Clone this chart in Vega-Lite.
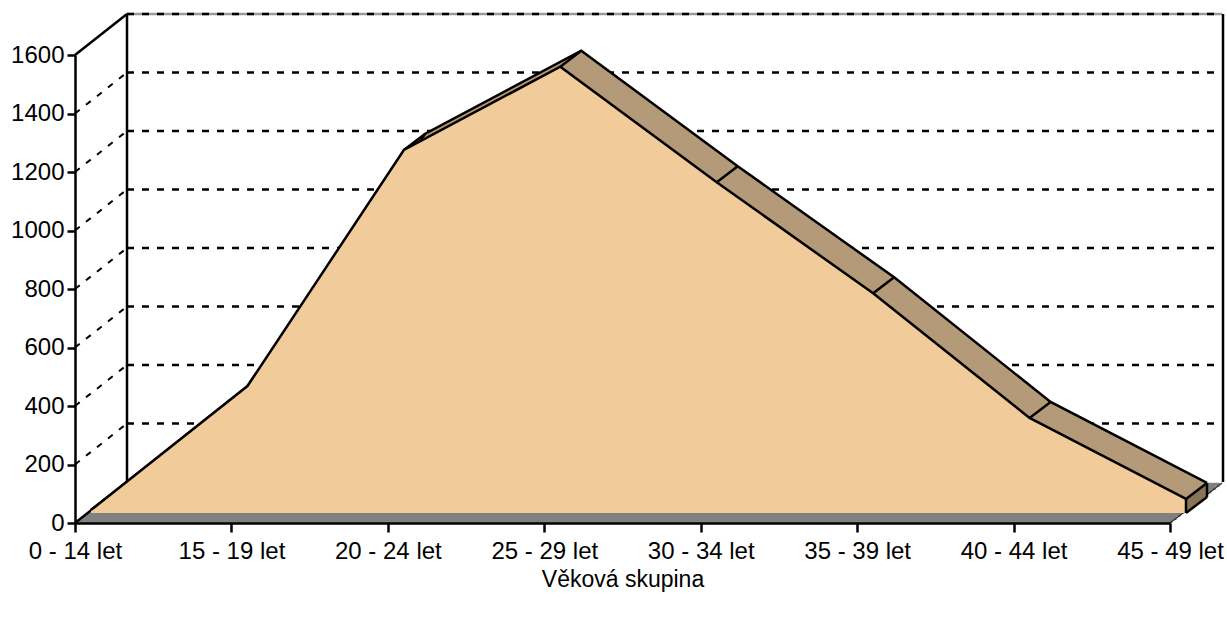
{
  "$schema": "https://vega.github.io/schema/vega-lite/v6.json",
  "autosize": "none",
  "width": 1095,
  "height": 468,
  "padding": {"left": 75, "top": 55, "right": 57, "bottom": 95},
  "background": "white",
  "config": {"view": {"stroke": null}, "font": "Liberation Sans"},
  "resolve": {"axis": {"x": "independent", "y": "independent"}},
  "datasets": {
    "ages": [
      {"group": "0 - 14 let", "count": 10},
      {"group": "15 - 19 let", "count": 434},
      {"group": "20 - 24 let", "count": 1241},
      {"group": "25 - 29 let", "count": 1526},
      {"group": "30 - 34 let", "count": 1131},
      {"group": "35 - 39 let", "count": 751},
      {"group": "40 - 44 let", "count": 325},
      {"group": "45 - 49 let", "count": 48}
    ],
    "ticks": [
      {"tick": 0}, {"tick": 200}, {"tick": 400}, {"tick": 600}, {"tick": 800},
      {"tick": 1000}, {"tick": 1200}, {"tick": 1400}, {"tick": 1600}
    ],
    "one": [{}]
  },
  "layer": [
    {
      "data": {"name": "ticks"},
      "transform": [{"filter": "datum.tick == 1600"}],
      "mark": {"type": "rule", "stroke": "#9a9a9a", "strokeWidth": 2.5, "xOffset": 52, "x2Offset": 52, "yOffset": -41},
      "encoding": {
        "x": {"datum": "0 - 14 let", "type": "ordinal", "scale": {"type": "point", "padding": 0, "domain": ["0 - 14 let","15 - 19 let","20 - 24 let","25 - 29 let","30 - 34 let","35 - 39 let","40 - 44 let","45 - 49 let"]}, "axis": null},
        "x2": {"datum": "45 - 49 let"},
        "y": {"field": "tick", "type": "quantitative", "scale": {"domain": [0, 1600], "nice": false}, "axis": null}
      }
    },
    {
      "data": {"name": "ticks"},
      "transform": [{"filter": "datum.tick > 0"}],
      "mark": {"type": "rule", "stroke": "black", "strokeWidth": 2.5, "strokeDash": [7, 8], "xOffset": 52, "x2Offset": 52, "yOffset": -41},
      "encoding": {
        "x": {"datum": "0 - 14 let", "type": "ordinal", "axis": null},
        "x2": {"datum": "45 - 49 let"},
        "y": {"field": "tick", "type": "quantitative", "axis": null}
      }
    },
    {
      "data": {"name": "one"},
      "mark": {"type": "rule", "stroke": "black", "strokeWidth": 2.5, "xOffset": 52, "yOffset": -41, "y2Offset": -41},
      "encoding": {
        "x": {"datum": "0 - 14 let", "type": "ordinal", "axis": null},
        "y": {"datum": 0, "type": "quantitative", "axis": null},
        "y2": {"datum": 1600}
      }
    },
    {
      "data": {"name": "one"},
      "mark": {"type": "rule", "stroke": "black", "strokeWidth": 2.5, "xOffset": 53, "yOffset": -41, "y2Offset": -41},
      "encoding": {
        "x": {"datum": "45 - 49 let", "type": "ordinal", "axis": null},
        "y": {"datum": 0, "type": "quantitative", "axis": null},
        "y2": {"datum": 1600}
      }
    },
    {
      "data": {"name": "ticks"},
      "transform": [{"filter": "datum.tick > 0 && datum.tick < 1600"}],
      "mark": {"type": "rule", "stroke": "black", "strokeWidth": 2, "strokeDash": [6, 8], "x2Offset": 52, "y2Offset": -41},
      "encoding": {
        "x": {"datum": "0 - 14 let", "type": "ordinal", "axis": null},
        "x2": {"datum": "0 - 14 let"},
        "y": {"field": "tick", "type": "quantitative", "axis": null},
        "y2": {"field": "tick"}
      }
    },
    {
      "data": {"name": "ticks"},
      "transform": [{"filter": "datum.tick == 1600"}],
      "mark": {"type": "rule", "stroke": "black", "strokeWidth": 2.5, "x2Offset": 52, "y2Offset": -41},
      "encoding": {
        "x": {"datum": "0 - 14 let", "type": "ordinal", "axis": null},
        "x2": {"datum": "0 - 14 let"},
        "y": {"field": "tick", "type": "quantitative", "axis": null},
        "y2": {"field": "tick"}
      }
    },
    {"data": {"name": "one"}, "mark": {"type": "rule", "stroke": "#808080", "strokeWidth": 3.8, "xOffset": 2.2, "x2Offset": 2.2, "yOffset": -1.7}, "encoding": {"x": {"datum": "0 - 14 let", "type": "ordinal", "axis": null}, "x2": {"datum": "45 - 49 let"}, "y": {"datum": 0, "type": "quantitative", "axis": null}}},
    {"data": {"name": "one"}, "mark": {"type": "rule", "stroke": "#808080", "strokeWidth": 3.8, "xOffset": 6.5, "x2Offset": 6.5, "yOffset": -5}, "encoding": {"x": {"datum": "0 - 14 let", "type": "ordinal", "axis": null}, "x2": {"datum": "45 - 49 let"}, "y": {"datum": 0, "type": "quantitative", "axis": null}}},
    {"data": {"name": "one"}, "mark": {"type": "rule", "stroke": "#808080", "strokeWidth": 3.8, "xOffset": 10.8, "x2Offset": 10.8, "yOffset": -8.3}, "encoding": {"x": {"datum": "0 - 14 let", "type": "ordinal", "axis": null}, "x2": {"datum": "45 - 49 let"}, "y": {"datum": 0, "type": "quantitative", "axis": null}}},
    {"data": {"name": "one"}, "mark": {"type": "rule", "stroke": "#808080", "strokeWidth": 3.8, "xOffset": 15.2, "x2Offset": 15.2, "yOffset": -11.7}, "encoding": {"x": {"datum": "0 - 14 let", "type": "ordinal", "axis": null}, "x2": {"datum": "45 - 49 let"}, "y": {"datum": 0, "type": "quantitative", "axis": null}}},
    {"data": {"name": "one"}, "mark": {"type": "rule", "stroke": "#808080", "strokeWidth": 3.8, "xOffset": 19.5, "x2Offset": 19.5, "yOffset": -15}, "encoding": {"x": {"datum": "0 - 14 let", "type": "ordinal", "axis": null}, "x2": {"datum": "45 - 49 let"}, "y": {"datum": 0, "type": "quantitative", "axis": null}}},
    {"data": {"name": "one"}, "mark": {"type": "rule", "stroke": "#808080", "strokeWidth": 3.8, "xOffset": 23.8, "x2Offset": 23.8, "yOffset": -18.3}, "encoding": {"x": {"datum": "0 - 14 let", "type": "ordinal", "axis": null}, "x2": {"datum": "45 - 49 let"}, "y": {"datum": 0, "type": "quantitative", "axis": null}}},
    {"data": {"name": "one"}, "mark": {"type": "rule", "stroke": "#808080", "strokeWidth": 3.8, "xOffset": 28.2, "x2Offset": 28.2, "yOffset": -21.7}, "encoding": {"x": {"datum": "0 - 14 let", "type": "ordinal", "axis": null}, "x2": {"datum": "45 - 49 let"}, "y": {"datum": 0, "type": "quantitative", "axis": null}}},
    {"data": {"name": "one"}, "mark": {"type": "rule", "stroke": "#808080", "strokeWidth": 3.8, "xOffset": 32.5, "x2Offset": 32.5, "yOffset": -25}, "encoding": {"x": {"datum": "0 - 14 let", "type": "ordinal", "axis": null}, "x2": {"datum": "45 - 49 let"}, "y": {"datum": 0, "type": "quantitative", "axis": null}}},
    {"data": {"name": "one"}, "mark": {"type": "rule", "stroke": "#808080", "strokeWidth": 3.8, "xOffset": 36.8, "x2Offset": 36.8, "yOffset": -28.3}, "encoding": {"x": {"datum": "0 - 14 let", "type": "ordinal", "axis": null}, "x2": {"datum": "45 - 49 let"}, "y": {"datum": 0, "type": "quantitative", "axis": null}}},
    {"data": {"name": "one"}, "mark": {"type": "rule", "stroke": "#808080", "strokeWidth": 3.8, "xOffset": 41.2, "x2Offset": 41.2, "yOffset": -31.7}, "encoding": {"x": {"datum": "0 - 14 let", "type": "ordinal", "axis": null}, "x2": {"datum": "45 - 49 let"}, "y": {"datum": 0, "type": "quantitative", "axis": null}}},
    {"data": {"name": "one"}, "mark": {"type": "rule", "stroke": "#808080", "strokeWidth": 3.8, "xOffset": 45.5, "x2Offset": 45.5, "yOffset": -35}, "encoding": {"x": {"datum": "0 - 14 let", "type": "ordinal", "axis": null}, "x2": {"datum": "45 - 49 let"}, "y": {"datum": 0, "type": "quantitative", "axis": null}}},
    {"data": {"name": "one"}, "mark": {"type": "rule", "stroke": "#808080", "strokeWidth": 3.8, "xOffset": 49.8, "x2Offset": 49.8, "yOffset": -38.3}, "encoding": {"x": {"datum": "0 - 14 let", "type": "ordinal", "axis": null}, "x2": {"datum": "45 - 49 let"}, "y": {"datum": 0, "type": "quantitative", "axis": null}}},
    {
      "data": {"name": "one"},
      "mark": {"type": "rule", "stroke": "#333333", "strokeWidth": 1.5, "x2Offset": 52, "y2Offset": -40},
      "encoding": {
        "x": {"datum": "45 - 49 let", "type": "ordinal", "axis": null},
        "x2": {"datum": "45 - 49 let"},
        "y": {"datum": 0, "type": "quantitative", "axis": null},
        "y2": {"datum": 0}
      }
    },
    {
      "data": {"name": "ticks"},
      "transform": [{"filter": "datum.tick == 0"}],
      "mark": {"type": "rule", "stroke": "black", "strokeWidth": 2.5, "x2Offset": 52, "y2Offset": -41},
      "encoding": {
        "x": {"datum": "0 - 14 let", "type": "ordinal", "axis": null},
        "x2": {"datum": "0 - 14 let"},
        "y": {"field": "tick", "type": "quantitative", "axis": null},
        "y2": {"field": "tick"}
      }
    },
    {"data": {"name": "ages"}, "mark": {"type": "area", "fill": "#B49A78", "xOffset": 37, "yOffset": -26, "y2Offset": -26}, "encoding": {"x": {"field": "group", "type": "ordinal", "axis": null}, "y": {"field": "count", "type": "quantitative", "axis": null}, "y2": {"datum": 0}}},
    {"data": {"name": "ages"}, "mark": {"type": "area", "fill": "#B49A78", "xOffset": 34.4, "yOffset": -24, "y2Offset": -24}, "encoding": {"x": {"field": "group", "type": "ordinal", "axis": null}, "y": {"field": "count", "type": "quantitative", "axis": null}, "y2": {"datum": 0}}},
    {"data": {"name": "ages"}, "mark": {"type": "area", "fill": "#B49A78", "xOffset": 31.8, "yOffset": -22, "y2Offset": -22}, "encoding": {"x": {"field": "group", "type": "ordinal", "axis": null}, "y": {"field": "count", "type": "quantitative", "axis": null}, "y2": {"datum": 0}}},
    {"data": {"name": "ages"}, "mark": {"type": "area", "fill": "#B49A78", "xOffset": 29.1, "yOffset": -20, "y2Offset": -20}, "encoding": {"x": {"field": "group", "type": "ordinal", "axis": null}, "y": {"field": "count", "type": "quantitative", "axis": null}, "y2": {"datum": 0}}},
    {"data": {"name": "ages"}, "mark": {"type": "area", "fill": "#B49A78", "xOffset": 26.5, "yOffset": -18, "y2Offset": -18}, "encoding": {"x": {"field": "group", "type": "ordinal", "axis": null}, "y": {"field": "count", "type": "quantitative", "axis": null}, "y2": {"datum": 0}}},
    {"data": {"name": "ages"}, "mark": {"type": "area", "fill": "#B49A78", "xOffset": 23.9, "yOffset": -16, "y2Offset": -16}, "encoding": {"x": {"field": "group", "type": "ordinal", "axis": null}, "y": {"field": "count", "type": "quantitative", "axis": null}, "y2": {"datum": 0}}},
    {"data": {"name": "ages"}, "mark": {"type": "area", "fill": "#B49A78", "xOffset": 21.3, "yOffset": -14, "y2Offset": -14}, "encoding": {"x": {"field": "group", "type": "ordinal", "axis": null}, "y": {"field": "count", "type": "quantitative", "axis": null}, "y2": {"datum": 0}}},
    {"data": {"name": "ages"}, "mark": {"type": "area", "fill": "#B49A78", "xOffset": 18.6, "yOffset": -12, "y2Offset": -12}, "encoding": {"x": {"field": "group", "type": "ordinal", "axis": null}, "y": {"field": "count", "type": "quantitative", "axis": null}, "y2": {"datum": 0}}},
    {"data": {"name": "ages"}, "transform": [{"filter": "datum.group == '45 - 49 let'"}], "mark": {"type": "rule", "stroke": "#8A7458", "strokeWidth": 3.4, "xOffset": 16, "yOffset": -10, "y2Offset": -10}, "encoding": {"x": {"field": "group", "type": "ordinal", "axis": null}, "y": {"field": "count", "type": "quantitative", "axis": null}, "y2": {"datum": 0}}},
    {"data": {"name": "ages"}, "transform": [{"filter": "datum.group == '45 - 49 let'"}], "mark": {"type": "rule", "stroke": "#8A7458", "strokeWidth": 3.4, "xOffset": 18.6, "yOffset": -12, "y2Offset": -12}, "encoding": {"x": {"field": "group", "type": "ordinal", "axis": null}, "y": {"field": "count", "type": "quantitative", "axis": null}, "y2": {"datum": 0}}},
    {"data": {"name": "ages"}, "transform": [{"filter": "datum.group == '45 - 49 let'"}], "mark": {"type": "rule", "stroke": "#8A7458", "strokeWidth": 3.4, "xOffset": 21.3, "yOffset": -14, "y2Offset": -14}, "encoding": {"x": {"field": "group", "type": "ordinal", "axis": null}, "y": {"field": "count", "type": "quantitative", "axis": null}, "y2": {"datum": 0}}},
    {"data": {"name": "ages"}, "transform": [{"filter": "datum.group == '45 - 49 let'"}], "mark": {"type": "rule", "stroke": "#8A7458", "strokeWidth": 3.4, "xOffset": 23.9, "yOffset": -16, "y2Offset": -16}, "encoding": {"x": {"field": "group", "type": "ordinal", "axis": null}, "y": {"field": "count", "type": "quantitative", "axis": null}, "y2": {"datum": 0}}},
    {"data": {"name": "ages"}, "transform": [{"filter": "datum.group == '45 - 49 let'"}], "mark": {"type": "rule", "stroke": "#8A7458", "strokeWidth": 3.4, "xOffset": 26.5, "yOffset": -18, "y2Offset": -18}, "encoding": {"x": {"field": "group", "type": "ordinal", "axis": null}, "y": {"field": "count", "type": "quantitative", "axis": null}, "y2": {"datum": 0}}},
    {"data": {"name": "ages"}, "transform": [{"filter": "datum.group == '45 - 49 let'"}], "mark": {"type": "rule", "stroke": "#8A7458", "strokeWidth": 3.4, "xOffset": 29.1, "yOffset": -20, "y2Offset": -20}, "encoding": {"x": {"field": "group", "type": "ordinal", "axis": null}, "y": {"field": "count", "type": "quantitative", "axis": null}, "y2": {"datum": 0}}},
    {"data": {"name": "ages"}, "transform": [{"filter": "datum.group == '45 - 49 let'"}], "mark": {"type": "rule", "stroke": "#8A7458", "strokeWidth": 3.4, "xOffset": 31.8, "yOffset": -22, "y2Offset": -22}, "encoding": {"x": {"field": "group", "type": "ordinal", "axis": null}, "y": {"field": "count", "type": "quantitative", "axis": null}, "y2": {"datum": 0}}},
    {"data": {"name": "ages"}, "transform": [{"filter": "datum.group == '45 - 49 let'"}], "mark": {"type": "rule", "stroke": "#8A7458", "strokeWidth": 3.4, "xOffset": 34.4, "yOffset": -24, "y2Offset": -24}, "encoding": {"x": {"field": "group", "type": "ordinal", "axis": null}, "y": {"field": "count", "type": "quantitative", "axis": null}, "y2": {"datum": 0}}},
    {"data": {"name": "ages"}, "transform": [{"filter": "datum.group == '45 - 49 let'"}], "mark": {"type": "rule", "stroke": "#8A7458", "strokeWidth": 3.4, "xOffset": 36, "yOffset": -25.3, "y2Offset": -25.3}, "encoding": {"x": {"field": "group", "type": "ordinal", "axis": null}, "y": {"field": "count", "type": "quantitative", "axis": null}, "y2": {"datum": 0}}},
    {
      "data": {"name": "ages"},
      "mark": {"type": "line", "stroke": "black", "strokeWidth": 2.5, "xOffset": 37, "yOffset": -26},
      "encoding": {"x": {"field": "group", "type": "ordinal", "axis": null}, "y": {"field": "count", "type": "quantitative", "axis": null}}
    },
    {
      "data": {"name": "ages"},
      "mark": {"type": "rule", "stroke": "black", "strokeWidth": 2.5, "xOffset": 16, "yOffset": -10, "x2Offset": 37, "y2Offset": -26},
      "encoding": {
        "x": {"field": "group", "type": "ordinal", "axis": null},
        "x2": {"field": "group"},
        "y": {"field": "count", "type": "quantitative", "axis": null},
        "y2": {"field": "count"}
      }
    },
    {
      "data": {"name": "ages"},
      "transform": [{"filter": "datum.group == '45 - 49 let'"}],
      "mark": {"type": "rule", "stroke": "black", "strokeWidth": 2.5, "xOffset": 37, "yOffset": -26, "y2Offset": -26},
      "encoding": {"x": {"field": "group", "type": "ordinal", "axis": null}, "y": {"field": "count", "type": "quantitative", "axis": null}, "y2": {"datum": 0}}
    },
    {
      "data": {"name": "one"},
      "mark": {"type": "rule", "stroke": "black", "strokeWidth": 2.5, "xOffset": 16, "yOffset": -10, "x2Offset": 37, "y2Offset": -26},
      "encoding": {
        "x": {"datum": "45 - 49 let", "type": "ordinal", "axis": null},
        "x2": {"datum": "45 - 49 let"},
        "y": {"datum": 0, "type": "quantitative", "axis": null},
        "y2": {"datum": 0}
      }
    },
    {
      "data": {"name": "ages"},
      "mark": {"type": "area", "fill": "#F1CB99", "xOffset": 16, "yOffset": -10, "y2Offset": -10},
      "encoding": {
        "x": {
          "field": "group", "type": "ordinal",
          "axis": {
            "title": "Věková skupina", "zindex": 1, "grid": false,
            "domainColor": "black", "domainWidth": 2.5,
            "tickColor": "black", "tickWidth": 2.5, "tickSize": 9,
            "labelFont": "Liberation Sans", "labelFontSize": 24, "labelColor": "black", "labelPadding": 7, "labelAngle": 0,
            "titleFont": "Liberation Sans", "titleFontSize": 23, "titleFontWeight": "normal", "titleColor": "black", "titlePadding": 5
          }
        },
        "y": {
          "field": "count", "type": "quantitative",
          "axis": {
            "title": null, "zindex": 1, "grid": false, "format": "d",
            "values": [0, 200, 400, 600, 800, 1000, 1200, 1400, 1600],
            "domainColor": "black", "domainWidth": 2.5,
            "tickColor": "black", "tickWidth": 2.5, "tickSize": 8,
            "labelFont": "Liberation Sans", "labelFontSize": 24, "labelColor": "black", "labelPadding": 3
          }
        },
        "y2": {"datum": 0}
      }
    },
    {
      "data": {"name": "ages"},
      "mark": {"type": "line", "stroke": "black", "strokeWidth": 2.5, "xOffset": 16, "yOffset": -10},
      "encoding": {"x": {"field": "group", "type": "ordinal", "axis": null}, "y": {"field": "count", "type": "quantitative", "axis": null}}
    },
    {
      "data": {"name": "ages"},
      "transform": [{"filter": "datum.group == '45 - 49 let'"}],
      "mark": {"type": "rule", "stroke": "black", "strokeWidth": 2.5, "xOffset": 16, "yOffset": -10, "y2Offset": -10},
      "encoding": {"x": {"field": "group", "type": "ordinal", "axis": null}, "y": {"field": "count", "type": "quantitative", "axis": null}, "y2": {"datum": 0}}
    }
  ]
}
